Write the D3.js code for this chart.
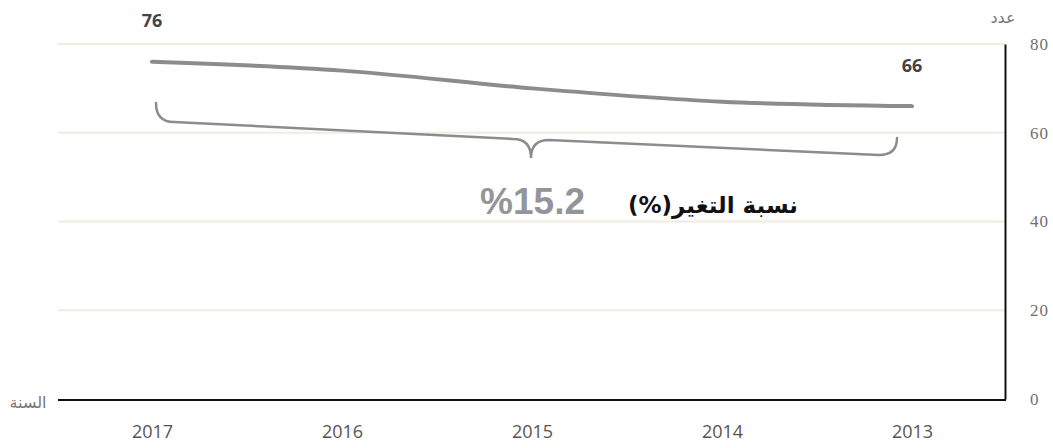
<!DOCTYPE html>
<html lang="ar">
<head>
<meta charset="utf-8">
<script src="https://cdn.jsdelivr.net/npm/d3@7"></script>
<style>
  html, body { margin: 0; padding: 0; background: #fff; }
  svg { display: block; }
</style>
</head>
<body>
<svg id="chart" width="1053" height="448"></svg>
<script>
// Yearly counts, newest year on the left
const years = [2017, 2016, 2015, 2014, 2013];
const counts = [76, 74, 70, 67, 66];
const yTicks = [0, 20, 40, 60, 80];
const changeLabel = "نسبة التغير(%)";
const changeValue = "%15.2";
const yTitle = "عدد";
const xTitle = "السنة";

const svg = d3.select("#chart");
const plot = { left: 58, right: 1005, top: 44, bottom: 399 };

const x = d3.scalePoint()
  .domain(years)
  .range([152, 912]);

const y = d3.scaleLinear()
  .domain([0, 80])
  .range([plot.bottom, plot.top]);

// Horizontal gridlines
svg.append("g")
  .selectAll("line")
  .data(yTicks.filter(d => d > 0))
  .join("line")
  .attr("x1", plot.left)
  .attr("x2", plot.right)
  .attr("y1", d => y(d))
  .attr("y2", d => y(d))
  .attr("stroke", "#f0ece2")
  .attr("stroke-width", 2);

// Right-hand value axis
const yAxis = d3.axisRight(y).tickValues(yTicks).tickSize(0).tickPadding(25);
const yG = svg.append("g")
  .attr("transform", `translate(${plot.right},0)`)
  .call(yAxis);
yG.attr("font-family", null);
yG.select(".domain").attr("stroke", "#111").attr("stroke-width", 2);
yG.selectAll("text")
  .style("font-family", "'Liberation Serif', 'DejaVu Serif', serif")
  .style("font-size", "17px")
  .attr("fill", "#707070")
  .attr("letter-spacing", 1);

// Bottom baseline
svg.append("line")
  .attr("x1", plot.left)
  .attr("x2", plot.right + 1)
  .attr("y1", y(0) + 1)
  .attr("y2", y(0) + 1)
  .attr("stroke", "#111")
  .attr("stroke-width", 2);

// Year labels
const xAxis = d3.axisBottom(x).tickSize(0).tickPadding(26);
const xG = svg.append("g")
  .attr("transform", `translate(0,${y(0)})`)
  .call(xAxis);
xG.attr("font-family", null);
xG.select(".domain").remove();
xG.selectAll("text")
  .style("font-family", "'Open Sans', sans-serif")
  .style("font-size", "18px")
  .attr("fill", "#555");

// Axis titles
svg.append("text")
  .attr("x", 1003).attr("y", 23)
  .attr("text-anchor", "middle")
  .attr("font-family", "'DejaVu Sans', sans-serif")
  .attr("font-size", 16)
  .attr("fill", "#777")
  .text(yTitle);

svg.append("text")
  .attr("x", 28).attr("y", 408)
  .attr("text-anchor", "middle")
  .attr("font-family", "'DejaVu Sans', sans-serif")
  .attr("font-size", 16)
  .attr("fill", "#777")
  .text(xTitle);

// Trend line
const series = years.map((yr, i) => ({ year: yr, value: counts[i] }));
const line = d3.line()
  .x(d => x(d.year))
  .y(d => y(d.value))
  .curve(d3.curveMonotoneX);

svg.append("path")
  .datum(series)
  .attr("d", line)
  .attr("fill", "none")
  .attr("stroke", "#8a8c8e")
  .attr("stroke-width", 4)
  .attr("stroke-linecap", "round");

// End-point value labels
const first = series[0], last = series[series.length - 1];
svg.append("text")
  .attr("x", x(first.year)).attr("y", 27)
  .attr("text-anchor", "middle")
  .attr("font-family", "'Open Sans', sans-serif")
  .attr("font-weight", 700)
  .attr("font-size", 18)
  .attr("fill", "#444")
  .text(first.value);

svg.append("text")
  .attr("x", x(last.year)).attr("y", 72)
  .attr("text-anchor", "middle")
  .attr("font-family", "'Open Sans', sans-serif")
  .attr("font-weight", 700)
  .attr("font-size", 18)
  .attr("fill", "#444")
  .text(last.value);

// Curly brace spanning the whole period
const bx0 = x(first.year) + 4, bx1 = x(last.year) - 15;
const bm = (x(first.year) + x(last.year)) / 2 - 1;
const braceTop0 = 103, corner0 = 122;
const tipY = 158, midY = 139, end1 = 155, braceTop1 = 138;
const r = 18;
const brace = d3.path();
brace.moveTo(bx0, braceTop0);
brace.quadraticCurveTo(bx0, corner0, bx0 + r, corner0);
brace.lineTo(bm - r, midY);
brace.quadraticCurveTo(bm, midY, bm, tipY);
brace.quadraticCurveTo(bm, midY + 1, bm + r, midY + 1);
brace.lineTo(bx1 - r, end1);
brace.quadraticCurveTo(bx1, end1, bx1, braceTop1);
svg.append("path")
  .attr("d", brace.toString())
  .attr("fill", "none")
  .attr("stroke", "#8a8c8e")
  .attr("stroke-width", 2.5)
  .attr("stroke-linecap", "round");

// Percentage change annotation
svg.append("text")
  .attr("x", 585).attr("y", 214)
  .attr("text-anchor", "end")
  .attr("font-family", "'Liberation Sans', Arial, sans-serif")
  .attr("font-weight", 700)
  .attr("font-size", 37)
  .attr("fill", "#939598")
  .text(changeValue);

svg.append("text")
  .attr("x", 798).attr("y", 213)
  .attr("text-anchor", "start")
  .attr("direction", "rtl")
  .attr("font-family", "'DejaVu Sans', sans-serif")
  .attr("font-weight", 700)
  .attr("font-size", 23)
  .attr("fill", "#111")
  .text(changeLabel);
</script>
</body>
</html>
